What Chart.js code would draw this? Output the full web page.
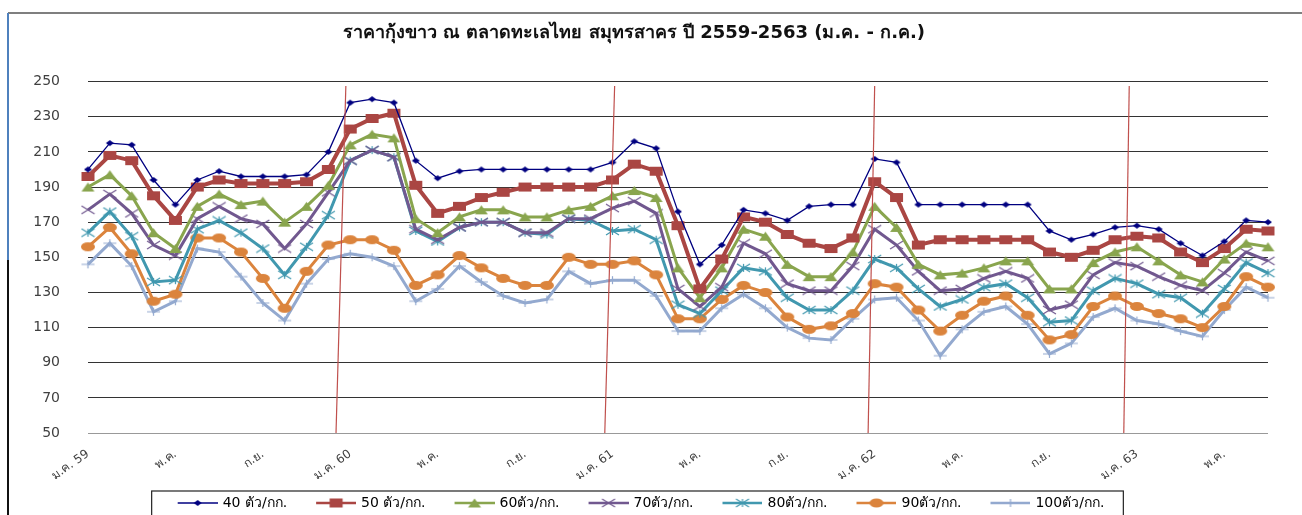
<!DOCTYPE html>
<html>
<head>
<meta charset="utf-8">
<script src="https://cdn.jsdelivr.net/npm/chart.js@4.4.1/dist/chart.umd.min.js"></script>
<style>
  html, body { margin: 0; padding: 0; background: #fff; }
  #wrap { width: 1302px; height: 515px; }
</style>
</head>
<body>
<div id="wrap"><canvas id="shrimpChart" width="1302" height="515"></canvas></div>
<script>
// months Jan 2559 .. Jul 2563
const monthNames = ['ม.ค.', 'ก.พ.', 'มี.ค.', 'เม.ย.', 'พ.ค.', 'มิ.ย.', 'ก.ค.', 'ส.ค.', 'ก.ย.', 'ต.ค.', 'พ.ย.', 'ธ.ค.'];
const years = ['59', '60', '61', '62', '63'];
const categories = [];
years.forEach((y, yi) => {
  monthNames.forEach((m, mi) => {
    if (yi === 4 && mi > 6) return;
    categories.push(mi === 0 ? m + ' ' + y : m);
  });
});

const yTicks = { min: 50, max: 250, step: 20 };

const size40 = [200, 215, 214, 194, 180, 194, 199, 196, 196, 196, 197, 210, 238, 240, 238, 205, 195,
  199, 200, 200, 200, 200, 200, 200, 204, 216, 212, 176, 146, 157, 177, 175, 171, 179, 180, 180,
  206, 204, 180, 180, 180, 180, 180, 180, 165, 160, 163, 167, 168, 166, 158, 151, 159, 171, 170];
const size50 = [196, 208, 205, 185, 171, 190, 194, 192, 192, 192, 193, 200, 223, 229, 232, 191, 175,
  179, 184, 187, 190, 190, 190, 190, 194, 203, 199, 168, 132, 149, 173, 170, 163, 158, 155, 161,
  193, 184, 157, 160, 160, 160, 160, 160, 153, 150, 154, 160, 162, 161, 153, 147, 155, 166, 165];
const size60 = [190, 197, 185, 164, 155, 179, 186, 180, 182, 170, 179, 191, 214, 220, 218, 172, 164,
  173, 177, 177, 173, 173, 177, 179, 185, 188, 184, 144, 127, 144, 166, 162, 146, 139, 139, 153,
  179, 167, 146, 140, 141, 144, 148, 148, 132, 132, 147, 153, 156, 148, 140, 136, 149, 158, 156];
const size70 = [177, 186, 175, 157, 151, 172, 179, 172, 169, 155, 169, 187, 205, 211, 207, 166, 160,
  167, 170, 170, 164, 164, 172, 172, 178, 182, 175, 132, 122, 133, 158, 152, 135, 131, 131, 145,
  166, 157, 142, 131, 132, 138, 142, 138, 120, 123, 140, 147, 145, 139, 134, 131, 141, 153, 148];
const size80 = [164, 176, 162, 136, 137, 166, 171, 164, 155, 140, 156, 174, 205, 211, 207, 165, 159,
  167, 170, 170, 164, 163, 172, 171, 165, 166, 160, 123, 118, 131, 144, 142, 127, 120, 120, 131,
  149, 144, 132, 122, 126, 133, 135, 127, 113, 114, 131, 138, 135, 129, 127, 118, 132, 147, 141];
const size90 = [156, 167, 152, 125, 129, 161, 161, 153, 138, 121, 142, 157, 160, 160, 154, 134, 140,
  151, 144, 138, 134, 134, 150, 146, 146, 148, 140, 115, 115, 126, 134, 130, 116, 109, 111, 118,
  135, 133, 120, 108, 117, 125, 128, 117, 103, 106, 122, 128, 122, 118, 115, 110, 122, 139, 133];
const size100 = [146, 158, 145, 119, 125, 155, 153, 139, 124, 114, 135, 149, 152, 150, 145, 125, 132,
  145, 136, 128, 124, 126, 142, 135, 137, 137, 128, 108, 108, 121, 129, 121, 110, 104, 103, 115,
  126, 127, 114, 94, 109, 119, 122, 112, 95, 101, 116, 121, 114, 112, 108, 105, 120, 133, 127];

// hand drawn year separators (category index at top / bottom of the plot)
const sepTop = [11.8, 24.1, 36.0, 47.65];
const sepBottom = [11.35, 23.65, 35.7, 47.4];

const seriesDefs = [
  { label: '40 ตัว/กก.', data: size40, color: '#000080', width: 1.3, marker: 'diamond', mw: 8, mh: 6 },
  { label: '50 ตัว/กก.', data: size50, color: '#AA4643', width: 4, marker: 'square', mw: 13, mh: 9 },
  { label: '60ตัว/กก.', data: size60, color: '#89A54E', width: 3, marker: 'triangle', mw: 13, mh: 9 },
  { label: '70ตัว/กก.', data: size70, color: '#71588F', width: 3, marker: 'x', mw: 13, mh: 8 },
  { label: '80ตัว/กก.', data: size80, color: '#4198AF', width: 3, marker: 'star', mw: 13, mh: 8 },
  { label: '90ตัว/กก.', data: size90, color: '#DB843D', width: 3, marker: 'circle', mw: 14, mh: 9 },
  { label: '100ตัว/กก.', data: size100, color: '#93A9CF', width: 3, marker: 'plus', mw: 13, mh: 8 }
];

function drawMarker(g, kind, color, w, h) {
  const a = w / 2, b = h / 2;
  g.fillStyle = color;
  g.strokeStyle = color;
  g.lineWidth = 1.2;
  g.beginPath();
  switch (kind) {
    case 'diamond':
      g.moveTo(0, -b); g.lineTo(a, 0); g.lineTo(0, b); g.lineTo(-a, 0); g.closePath(); g.fill();
      break;
    case 'square':
      g.fillRect(-a, -b, w, h);
      break;
    case 'triangle':
      g.moveTo(0, -b); g.lineTo(a, b); g.lineTo(-a, b); g.closePath(); g.fill();
      break;
    case 'circle':
      g.ellipse(0, 0, a, b, 0, 0, Math.PI * 2); g.fill();
      break;
    case 'x':
      g.moveTo(-a, -b); g.lineTo(a, b); g.moveTo(-a, b); g.lineTo(a, -b); g.stroke();
      break;
    case 'star':
      g.moveTo(-a, -b); g.lineTo(a, b); g.moveTo(-a, b); g.lineTo(a, -b);
      g.moveTo(0, -b); g.lineTo(0, b); g.stroke();
      break;
    case 'plus':
      g.moveTo(-a, 0); g.lineTo(a, 0); g.moveTo(0, -b); g.lineTo(0, b); g.stroke();
      break;
  }
}

function markerImage(s) {
  const c = document.createElement('canvas');
  c.width = s.mw + 2; c.height = s.mh + 2;
  const g = c.getContext('2d');
  g.translate(c.width / 2, c.height / 2);
  drawMarker(g, s.marker, s.color, s.mw, s.mh);
  return c;
}

// legend swatch: empty lead-in, then a 40px line with the marker in its middle
function legendImage(s) {
  const c = document.createElement('canvas');
  c.width = 56; c.height = 14;
  const g = c.getContext('2d');
  g.strokeStyle = s.color;
  g.lineWidth = Math.min(s.width, 2.5);
  g.beginPath(); g.moveTo(16, 7); g.lineTo(56, 7); g.stroke();
  g.translate(36, 7);
  drawMarker(g, s.marker, s.color, s.mw, s.mh);
  return c;
}

const legendIcons = seriesDefs.map(legendImage);

const framePlugin = {
  id: 'frame',
  beforeDraw(chart) {
    const ctx = chart.ctx;
    ctx.save();
    ctx.lineWidth = 1.5;
    ctx.strokeStyle = '#555';
    ctx.beginPath(); ctx.moveTo(8, 13); ctx.lineTo(1302, 13); ctx.stroke();
    ctx.lineWidth = 2;
    ctx.strokeStyle = '#4f81bd';
    ctx.beginPath(); ctx.moveTo(8, 13); ctx.lineTo(8, 260); ctx.stroke();
    ctx.strokeStyle = '#111';
    ctx.beginPath(); ctx.moveTo(8, 260); ctx.lineTo(8, 515); ctx.stroke();
    ctx.restore();
  },
  afterDatasetsDraw(chart) {
    const { ctx, scales: { x, y } } = chart;
    ctx.save();
    ctx.strokeStyle = '#C0504D';
    ctx.lineWidth = 1.2;
    sepTop.forEach((t, i) => {
      ctx.beginPath();
      ctx.moveTo(x.getPixelForValue(t), y.getPixelForValue(247.5));
      ctx.lineTo(x.getPixelForValue(sepBottom[i]), y.getPixelForValue(50));
      ctx.stroke();
    });
    ctx.restore();
  },
  afterDraw(chart) {
    const boxes = chart.legend.legendHitBoxes;
    if (!boxes || !boxes.length) return;
    const left = Math.min(...boxes.map(b => b.left)) - 12;
    const right = Math.max(...boxes.map(b => b.left + b.width)) + 19;
    const top = boxes[0].top - 5;
    const ctx = chart.ctx;
    ctx.save();
    ctx.strokeStyle = '#222';
    ctx.lineWidth = 1.2;
    ctx.strokeRect(left, top, right - left, 25);
    ctx.restore();
  }
};

Chart.defaults.font.family = "'DejaVu Sans', Tahoma, 'Noto Sans', sans-serif";
Chart.defaults.color = '#404040';

new Chart(document.getElementById('shrimpChart'), {
  type: 'line',
  data: {
    labels: categories,
    datasets: seriesDefs.map(s => ({
      label: s.label,
      data: s.data,
      borderColor: s.color,
      backgroundColor: s.color,
      borderWidth: s.width,
      pointStyle: markerImage(s),
      pointRadius: 5,
      tension: 0,
      fill: false
    }))
  },
  options: {
    responsive: false,
    devicePixelRatio: 1,
    animation: false,
    layout: { padding: { top: 23, left: 0, right: 34, bottom: -5 } },
    plugins: {
      title: {
        display: true,
        text: 'ราคากุ้งขาว ณ ตลาดทะเลไทย สมุทรสาคร ปี 2559-2563 (ม.ค. - ก.ค.)',
        color: '#111',
        font: { size: 18, weight: 'bold' },
        padding: { top: 0, bottom: 37 }
      },
      legend: {
        position: 'bottom',
        labels: {
          usePointStyle: true,
          pointStyleWidth: 52,
          color: '#222',
          font: { size: 14 },
          padding: 15,
          generateLabels: chart => chart.data.datasets.map((ds, i) => ({
            text: ds.label,
            pointStyle: legendIcons[i],
            fillStyle: ds.borderColor,
            strokeStyle: ds.borderColor,
            lineWidth: 0,
            hidden: false,
            datasetIndex: i
          }))
        }
      },
      tooltip: { enabled: false }
    },
    scales: {
      x: {
        offset: false,
        grid: { display: false },
        border: { display: false },
        ticks: {
          autoSkip: false,
          maxRotation: 35,
          minRotation: 35,
          padding: 6,
          font: { size: 12 },
          callback: (v, i) => (i % 4 === 0 ? categories[i] : '')
        },
        afterFit: s => { s.height = 48; }
      },
      y: {
        min: yTicks.min,
        max: yTicks.max,
        grid: {
          drawTicks: false,
          color: c => (c.tick && c.tick.value === yTicks.min ? '#999' : '#333'),
          lineWidth: 1
        },
        border: { display: false },
        ticks: { stepSize: yTicks.step, padding: 28, font: { size: 14 } },
        afterFit: s => { s.width = 88; }
      }
    }
  },
  plugins: [framePlugin]
});
</script>
</body>
</html>
